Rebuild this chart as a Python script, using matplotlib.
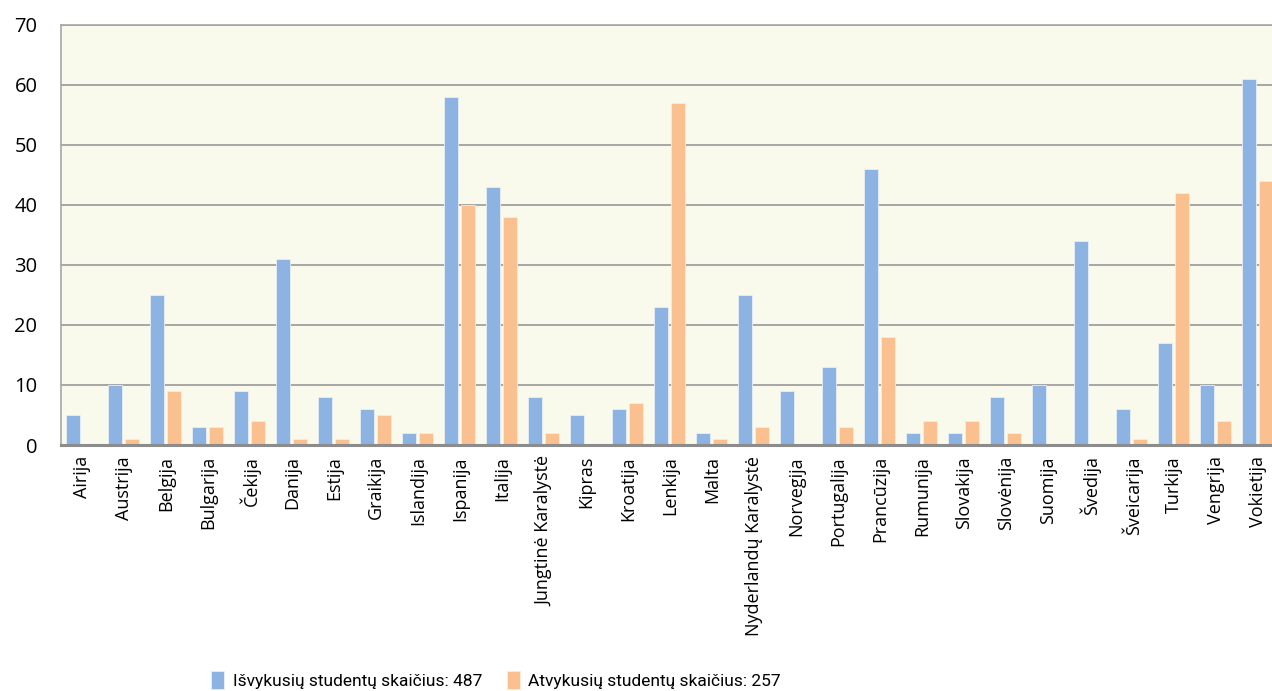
import matplotlib
matplotlib.use("Agg")
import matplotlib.pyplot as plt
import numpy as np

countries = ["Airija", "Austrija", "Belgija", "Bulgarija", "Čekija", "Danija", "Estija",
             "Graikija", "Islandija", "Ispanija", "Italija", "Jungtinė Karalystė", "Kipras",
             "Kroatija", "Lenkija", "Malta", "Nyderlandų Karalystė", "Norvegija",
             "Portugalija", "Prancūzija", "Rumunija", "Slovakija", "Slovėnija", "Suomija",
             "Švedija", "Šveicarija", "Turkija", "Vengrija", "Vokietija"]
outgoing = [5, 10, 25, 3, 9, 31, 8, 6, 2, 58, 43, 8, 5, 6, 23, 2, 25, 9, 13, 46,
            2, 2, 8, 10, 34, 6, 17, 10, 61]
incoming = [0, 1, 9, 3, 4, 1, 1, 5, 2, 40, 38, 2, 0, 7, 57, 1, 3, 0, 3, 18,
            4, 4, 2, 0, 0, 1, 42, 4, 44]
label_out = "Išvykusių studentų skaičius: 487"
label_in = "Atvykusių studentų skaičius: 257"

BLUE = "#8DB3E2"
ORANGE = "#FAC090"

plt.rcParams["font.family"] = ["Open Sans", "DejaVu Sans"]

fig = plt.figure(figsize=(12.72, 6.91), dpi=100)
ax = fig.add_axes([0.048, 0.356, 0.952, 0.608])
ax.set_facecolor("#FAFAEC")

x = np.arange(len(countries))
w = 0.333
ax.bar(x - 0.214, outgoing, w, color=BLUE, edgecolor="#E8EEF5", linewidth=0.6,
       label=label_out, zorder=3)
ax.bar(x + 0.19, incoming, w, color=ORANGE, edgecolor="#FBEBDD", linewidth=0.6,
       label=label_in, zorder=3)

ax.set_xlim(-0.5, -0.5 + 1211 / 42)
ax.set_ylim(0, 70)
ax.set_yticks(range(0, 71, 10))
ax.yaxis.grid(True, color="#A6A6A6", lw=1.4, zorder=1)
ax.set_axisbelow(True)

ax.set_xticks(x)
ax.set_xticklabels(countries, rotation=90, fontsize=13)
ax.tick_params(axis="both", length=0, pad=8)
ax.tick_params(axis="y", labelsize=14.5, pad=17)

for s in ("top", "left"):
    ax.spines[s].set_color("#A6A6A6")
    ax.spines[s].set_linewidth(1.2)
ax.spines["right"].set_visible(False)
ax.spines["bottom"].set_color("#8C8C8C")
ax.spines["bottom"].set_linewidth(2.2)
ax.spines["bottom"].set_zorder(4)

fig.legend(loc="center", bbox_to_anchor=(0.39, 1 - 680 / 691), ncol=2, frameon=False,
           handlelength=0.75, handleheight=1.3, handletextpad=0.5, columnspacing=1.4,
           prop={"family": ["Roboto", "DejaVu Sans"], "size": 12.5})

fig.savefig("out.png", dpi=100)
